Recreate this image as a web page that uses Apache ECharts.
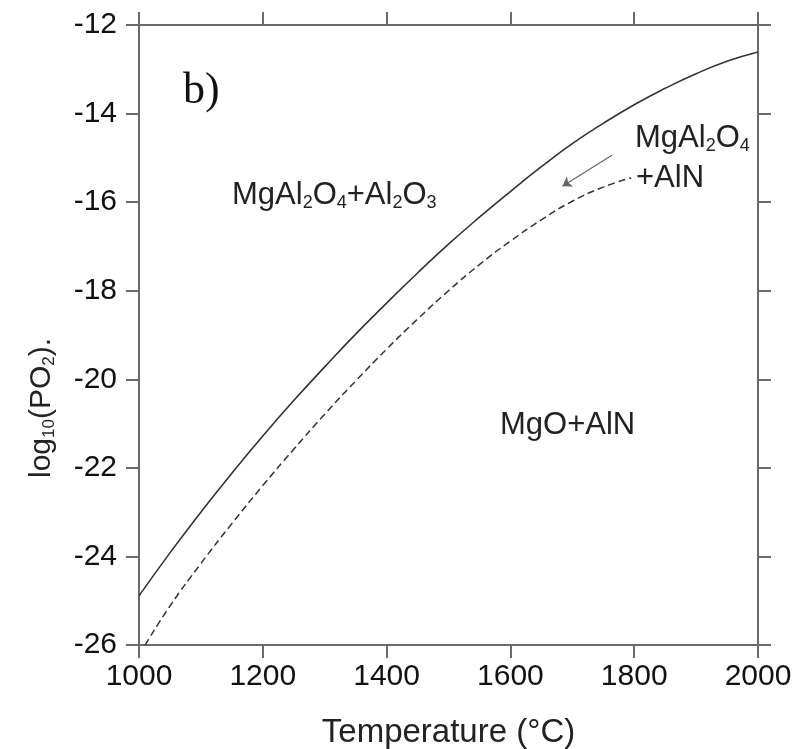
<!DOCTYPE html>
<html>
<head>
<meta charset="utf-8">
<script src="https://cdn.jsdelivr.net/npm/echarts@6/dist/echarts.min.js"></script>
<style>
  html, body { margin: 0; padding: 0; background: #fff; }
  #chart { width: 797px; height: 749px; }
</style>
</head>
<body>
<div id="chart"></div>
<script>
// upper boundary (solid): MgAl2O4+Al2O3 / MgAl2O4+AlN
const solidT = [1000, 1050, 1100, 1150, 1200, 1250, 1300, 1350, 1400, 1450, 1500,
  1550, 1600, 1650, 1700, 1750, 1800, 1850, 1900, 1950, 2000];
const solidLogP = [-24.89, -23.92, -23.0, -22.12, -21.28, -20.48, -19.72, -18.98, -18.28, -17.6, -16.95,
  -16.34, -15.76, -15.2, -14.68, -14.22, -13.8, -13.43, -13.1, -12.82, -12.61];

// lower boundary (dashed): MgAl2O4+AlN / MgO+AlN
const dashT = [1010, 1050, 1100, 1150, 1200, 1250, 1300, 1350, 1400, 1450, 1500,
  1550, 1600, 1650, 1700, 1750, 1795];
const dashLogP = [-26.0, -25.12, -24.16, -23.26, -22.4, -21.58, -20.79, -20.04, -19.32, -18.64, -18.0,
  -17.41, -16.88, -16.4, -15.98, -15.66, -15.45];

const arrowFrom = [1764, -14.94];
const arrowTo = [1684, -15.64];

const xTicks = [1000, 2000, 200];
const yTicks = [-26, -12, 2];

const font = 'Liberation Sans, Arial, sans-serif';
const axisColor = '#6a6a6a';
const lineColor = '#333';

function zip(xs, ys) {
  return xs.map((x, i) => [x, ys[i]]);
}

const chart = echarts.init(document.getElementById('chart'), null, { renderer: 'canvas' });

const baseX = {
  type: 'value',
  min: xTicks[0],
  max: xTicks[1],
  interval: xTicks[2],
  splitLine: { show: false },
  axisLine: { show: true, onZero: false, lineStyle: { color: axisColor, width: 2 } },
  axisTick: { show: true, inside: false, length: 13, lineStyle: { color: axisColor, width: 2 } }
};
const baseY = {
  type: 'value',
  min: yTicks[0],
  max: yTicks[1],
  interval: yTicks[2],
  splitLine: { show: false },
  axisLine: { show: true, onZero: false, lineStyle: { color: axisColor, width: 2 } },
  axisTick: { show: true, inside: false, length: 13, lineStyle: { color: axisColor, width: 2 } }
};

const sub = { fontSize: 18, fontFamily: font, color: '#222', padding: [15, 0, 0, 0] };

let option = {
  animation: false,
  backgroundColor: '#fff',
  grid: { left: 139, right: 39, top: 25, bottom: 104, containLabel: false, outerBoundsMode: 'none' },
  xAxis: [
    Object.assign({}, baseX, {
      position: 'bottom',
      name: 'Temperature (°C)',
      nameLocation: 'middle',
      nameGap: 71,
      nameTextStyle: { fontSize: 33, fontFamily: font, color: '#222' },
      axisLabel: {
        show: true, margin: 17, fontSize: 30, fontFamily: font, color: '#111',
        formatter: v => String(v)
      }
    }),
    Object.assign({}, baseX, { position: 'top', axisLabel: { show: false } })
  ],
  yAxis: [
    Object.assign({}, baseY, {
      position: 'left',
      axisLabel: { show: true, margin: 22, fontSize: 30, fontFamily: font, color: '#111' }
    }),
    Object.assign({}, baseY, { position: 'right', axisLabel: { show: false } })
  ],
  series: [
    {
      type: 'line',
      data: zip(solidT, solidLogP),
      smooth: true,
      showSymbol: false,
      lineStyle: { color: lineColor, width: 1.6 }
    },
    {
      type: 'line',
      data: zip(dashT, dashLogP),
      smooth: true,
      showSymbol: false,
      lineStyle: { color: lineColor, width: 1.5, type: [7, 4] },
      markLine: {
        silent: true,
        symbol: ['none', 'arrow'],
        symbolSize: 9,
        label: { show: false },
        lineStyle: { color: '#666', width: 1.2, type: 'solid' },
        data: [[{ coord: arrowFrom }, { coord: arrowTo }]]
      }
    }
  ],
  graphic: [
    {
      type: 'text', left: 183, top: 69,
      style: { text: 'b)', fontSize: 44, fontFamily: 'Liberation Serif, Times New Roman, serif', fill: '#111' }
    },
    {
      type: 'text', left: 232, top: 180,
      style: {
        text: 'MgAl{s|2}O{s|4}+Al{s|2}O{s|3}',
        fontSize: 31, fontFamily: font, fill: '#222',
        rich: { s: sub }
      }
    },
    {
      type: 'text', left: 635, top: 123,
      style: {
        text: 'MgAl{s|2}O{s|4}',
        fontSize: 31, fontFamily: font, fill: '#222',
        rich: { s: sub }
      }
    },
    {
      type: 'text', left: 636, top: 163,
      style: { text: '+AlN', fontSize: 31, fontFamily: font, fill: '#222' }
    },
    {
      type: 'text', left: 500, top: 410,
      style: { text: 'MgO+AlN', fontSize: 31, fontFamily: font, fill: '#222' }
    },
    {
      type: 'text', x: 42, y: 408, rotation: Math.PI / 2,
      style: {
        text: 'log{s|10}(PO{s|2}).',
        fontSize: 30, fontFamily: font, fill: '#222',
        align: 'center', verticalAlign: 'middle',
        rich: { s: { fontSize: 17, fontFamily: font, fill: '#222', padding: [14, 0, 0, 0] } }
      }
    }
  ]
};

chart.setOption(option);
</script>
</body>
</html>
